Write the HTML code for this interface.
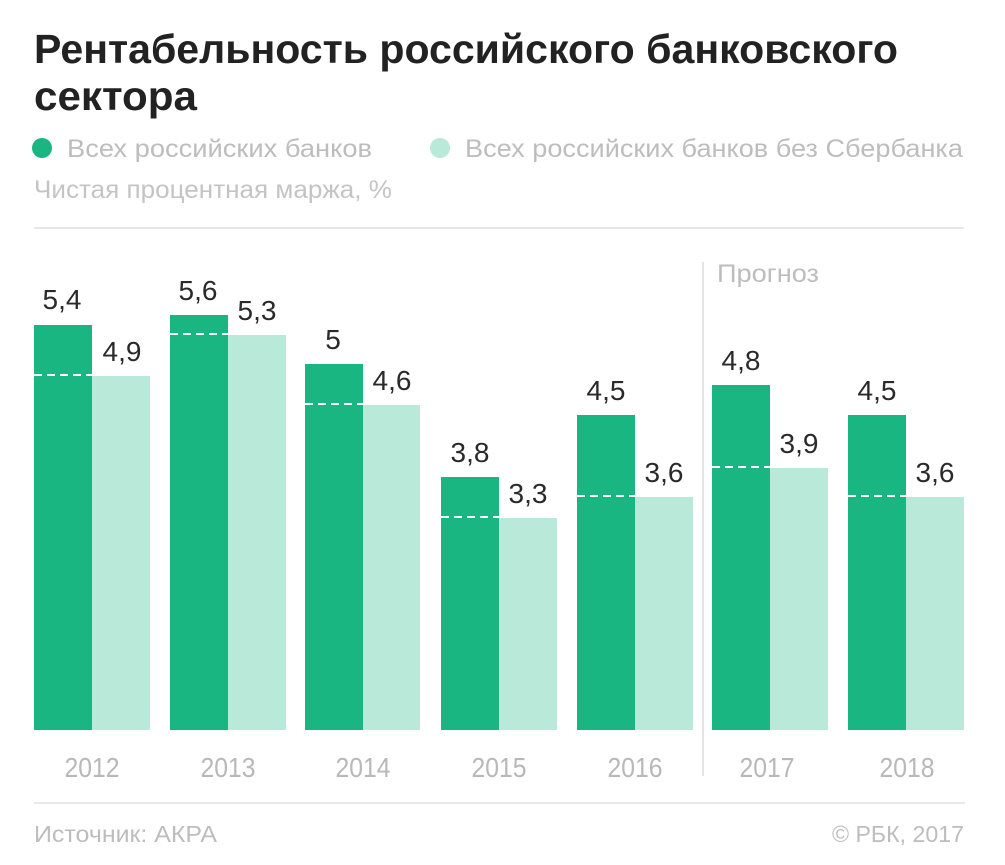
<!DOCTYPE html>
<html>
<head>
<meta charset="utf-8">
<style>
html,body{margin:0;padding:0;background:#fff;}
svg{display:block;}
text{font-family:"Liberation Sans","DejaVu Sans",sans-serif;}
</style>
</head>
<body>
<svg width="1005" height="865" viewBox="0 0 1005 865" xmlns="http://www.w3.org/2000/svg">
<rect width="1005" height="865" fill="#fff"/>
<!-- Title -->
<text x="34" y="63" font-size="41" font-weight="bold" fill="#222" textLength="864" lengthAdjust="spacingAndGlyphs">Рентабельность российского банковского</text>
<text x="34" y="110" font-size="41" font-weight="bold" fill="#222" textLength="163" lengthAdjust="spacingAndGlyphs">сектора</text>
<!-- Legend -->
<circle cx="42" cy="148" r="10" fill="#19b681"/>
<text x="67" y="157" font-size="25" fill="#bdbdbd" textLength="305" lengthAdjust="spacingAndGlyphs">Всех российских банков</text>
<circle cx="440" cy="148" r="10" fill="#b9e9d8"/>
<text x="465" y="157" font-size="25" fill="#bdbdbd" textLength="498" lengthAdjust="spacingAndGlyphs">Всех российских банков без Сбербанка</text>
<text x="34" y="198" font-size="25" fill="#c4c4c4" textLength="358" lengthAdjust="spacingAndGlyphs">Чистая процентная маржа, %</text>
<line x1="34" y1="228" x2="964" y2="228" stroke="#e8e8e8" stroke-width="2"/>
<!-- Forecast separator -->
<line x1="703" y1="262" x2="703" y2="776" stroke="#e4e4e4" stroke-width="2"/>
<text x="717" y="282" font-size="25" fill="#bdbdbd" textLength="102" lengthAdjust="spacingAndGlyphs">Прогноз</text>

<!-- Bars -->
<g>
<rect x="34" y="325" width="58" height="405" fill="#19b681"/>
<rect x="92" y="376" width="58" height="354" fill="#b9e9d8"/>
<line x1="34" y1="375" x2="92" y2="375" stroke="#fff" stroke-width="2" stroke-dasharray="8,5"/>
<rect x="170" y="315" width="58" height="415" fill="#19b681"/>
<rect x="228" y="335" width="58" height="395" fill="#b9e9d8"/>
<line x1="170" y1="334" x2="228" y2="334" stroke="#fff" stroke-width="2" stroke-dasharray="8,5"/>
<rect x="305" y="364" width="58" height="366" fill="#19b681"/>
<rect x="363" y="405" width="57" height="325" fill="#b9e9d8"/>
<line x1="305" y1="404" x2="363" y2="404" stroke="#fff" stroke-width="2" stroke-dasharray="8,5"/>
<rect x="441" y="477" width="58" height="253" fill="#19b681"/>
<rect x="499" y="518" width="58" height="212" fill="#b9e9d8"/>
<line x1="441" y1="517" x2="499" y2="517" stroke="#fff" stroke-width="2" stroke-dasharray="8,5"/>
<rect x="577" y="415" width="58" height="315" fill="#19b681"/>
<rect x="635" y="497" width="58" height="233" fill="#b9e9d8"/>
<line x1="577" y1="496" x2="635" y2="496" stroke="#fff" stroke-width="2" stroke-dasharray="8,5"/>
<rect x="712" y="385" width="58" height="345" fill="#19b681"/>
<rect x="770" y="468" width="58" height="262" fill="#b9e9d8"/>
<line x1="712" y1="467" x2="770" y2="467" stroke="#fff" stroke-width="2" stroke-dasharray="8,5"/>
<rect x="848" y="415" width="58" height="315" fill="#19b681"/>
<rect x="906" y="497" width="58" height="233" fill="#b9e9d8"/>
<line x1="848" y1="496" x2="906" y2="496" stroke="#fff" stroke-width="2" stroke-dasharray="8,5"/>
</g>

<!-- Value labels -->
<g font-size="28" fill="#2a2a2a" text-anchor="middle">
<text x="62" y="309">5,4</text>
<text x="122" y="361">4,9</text>
<text x="198" y="300">5,6</text>
<text x="257" y="320">5,3</text>
<text x="333" y="349">5</text>
<text x="392" y="390">4,6</text>
<text x="470" y="462">3,8</text>
<text x="528" y="503">3,3</text>
<text x="606" y="400">4,5</text>
<text x="664" y="482">3,6</text>
<text x="741" y="370">4,8</text>
<text x="799" y="453">3,9</text>
<text x="877" y="400">4,5</text>
<text x="935" y="482">3,6</text>
</g>

<!-- Year labels -->
<g font-size="28" fill="#b8b8b8" text-anchor="middle">
<text x="92" y="777" textLength="55" lengthAdjust="spacingAndGlyphs">2012</text>
<text x="228" y="777" textLength="55" lengthAdjust="spacingAndGlyphs">2013</text>
<text x="363" y="777" textLength="55" lengthAdjust="spacingAndGlyphs">2014</text>
<text x="499" y="777" textLength="55" lengthAdjust="spacingAndGlyphs">2015</text>
<text x="635" y="777" textLength="55" lengthAdjust="spacingAndGlyphs">2016</text>
<text x="767" y="777" textLength="55" lengthAdjust="spacingAndGlyphs">2017</text>
<text x="907" y="777" textLength="55" lengthAdjust="spacingAndGlyphs">2018</text>
</g>

<line x1="34" y1="803" x2="965" y2="803" stroke="#e8e8e8" stroke-width="2"/>
<text x="34" y="842" font-size="23" fill="#bdbdbd" textLength="183" lengthAdjust="spacingAndGlyphs">Источник: АКРА</text>
<text x="832" y="842" font-size="23" fill="#bdbdbd" textLength="132" lengthAdjust="spacingAndGlyphs">© РБК, 2017</text>
</svg>
</body>
</html>
